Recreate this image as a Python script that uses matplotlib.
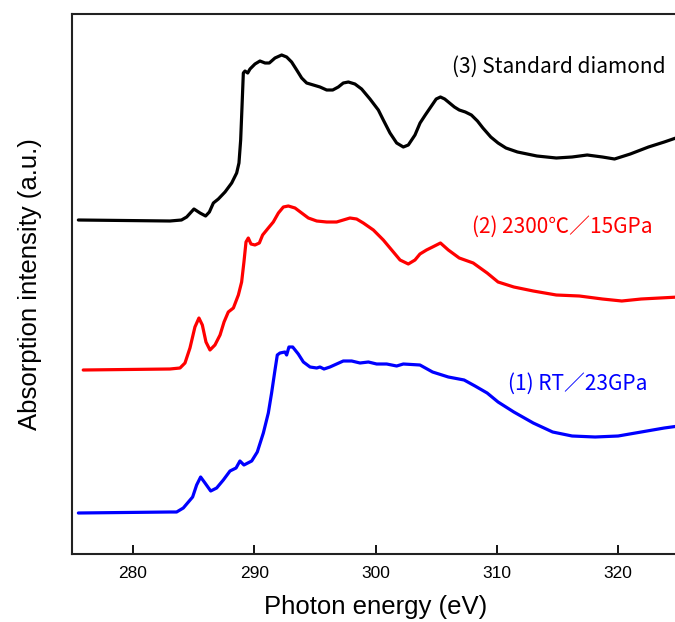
import matplotlib
matplotlib.use("Agg")
import matplotlib.pyplot as plt

plt.rcParams['font.family'] = ['Noto Sans CJK JP', 'DejaVu Sans']

# (3) Standard diamond
e_std = [275.5, 283.05, 284.0, 284.43, 285.03, 285.53, 285.99, 286.3, 286.63, 287.04, 287.59, 288.14,
         288.55, 288.74, 288.88, 288.99, 289.1, 289.24, 289.46, 289.65, 290.06, 290.47, 290.89, 291.24,
         291.71, 292.26, 292.67, 293.08, 293.5, 293.91, 294.32, 294.87, 295.42, 295.97, 296.47, 296.93,
         297.34, 297.76, 298.3, 298.85, 299.54, 300.23, 300.64, 301.19, 301.74, 302.29, 302.7, 303.25,
         303.67, 304.1, 304.55, 305.0, 305.35, 305.7, 306.0, 306.5, 306.9, 307.4, 307.9, 308.4,
         308.85, 309.5, 310.1, 310.75, 311.7, 313.3, 314.9, 316.2, 317.45, 318.7, 319.7, 321.0,
         322.5, 323.8, 325.0]
i_std = [3.34, 3.33, 3.34, 3.37, 3.45, 3.41, 3.38, 3.42, 3.51, 3.55, 3.62, 3.71,
         3.81, 3.91, 4.14, 4.47, 4.81, 4.83, 4.81, 4.85, 4.90, 4.93, 4.91, 4.91,
         4.96, 4.99, 4.97, 4.92, 4.84, 4.76, 4.71, 4.69, 4.67, 4.64, 4.64, 4.67,
         4.71, 4.72, 4.70, 4.65, 4.55, 4.44, 4.34, 4.21, 4.11, 4.07, 4.09, 4.19,
         4.31, 4.39, 4.47, 4.55, 4.57, 4.55, 4.52, 4.47, 4.44, 4.42, 4.39, 4.33,
         4.26, 4.17, 4.11, 4.06, 4.02, 3.98, 3.96, 3.97, 3.99, 3.97, 3.95, 4.00,
         4.07, 4.12, 4.17]

# (2) 2300C / 15GPa
e_hot = [275.9, 283.05, 283.88, 284.29, 284.7, 285.11, 285.44, 285.72, 286.02, 286.35, 286.76, 287.18,
         287.51, 287.86, 288.28, 288.69, 288.96, 289.15, 289.32, 289.51, 289.73, 290.06, 290.42, 290.69,
         291.16, 291.57, 291.99, 292.4, 292.81, 293.36, 293.91, 294.46, 295.15, 295.97, 296.79, 297.34,
         297.89, 298.44, 298.99, 299.82, 300.64, 301.33, 302.02, 302.7, 303.25, 303.66, 304.2, 304.7,
         305.35, 306.0, 306.9, 308.05, 309.2, 310.1, 311.4, 313.0, 314.9, 316.8, 318.7, 320.3,
         321.9, 325.0]
i_hot = [1.84, 1.85, 1.86, 1.91, 2.06, 2.27, 2.36, 2.29, 2.12, 2.04, 2.09, 2.19,
         2.32, 2.42, 2.46, 2.59, 2.72, 2.92, 3.12, 3.16, 3.10, 3.09, 3.11, 3.19,
         3.26, 3.32, 3.41, 3.47, 3.48, 3.46, 3.41, 3.36, 3.33, 3.32, 3.32, 3.34,
         3.36, 3.35, 3.31, 3.24, 3.14, 3.04, 2.94, 2.90, 2.94, 3.00, 3.04, 3.07,
         3.11, 3.04, 2.96, 2.91, 2.81, 2.72, 2.67, 2.63, 2.59, 2.58, 2.55, 2.53,
         2.55, 2.57]

# (1) RT / 23GPa
e_rt = [275.5, 283.05, 283.6, 284.15, 284.57, 284.92, 285.25, 285.58, 285.94, 286.41, 286.9, 287.45,
        288.0, 288.5, 288.82, 289.15, 289.79, 290.25, 290.75, 291.16, 291.43, 291.71, 291.9, 292.12,
        292.53, 292.67, 292.86, 293.17, 293.63, 294.05, 294.6, 295.15, 295.42, 295.75, 296.24, 296.79,
        297.34, 298.03, 298.72, 299.41, 300.09, 300.92, 301.74, 302.29, 303.66, 304.7, 306.0, 307.3,
        308.2, 309.2, 310.1, 311.4, 313.0, 314.6, 316.2, 318.1, 320.0, 321.9, 323.8, 325.0]
i_rt = [0.41, 0.42, 0.42, 0.46, 0.52, 0.57, 0.69, 0.77, 0.71, 0.63, 0.66, 0.74,
        0.83, 0.86, 0.93, 0.89, 0.93, 1.02, 1.21, 1.41, 1.61, 1.84, 1.99, 2.01,
        2.02, 1.99, 2.07, 2.07, 2.00, 1.92, 1.87, 1.86, 1.87, 1.85, 1.87, 1.90,
        1.93, 1.93, 1.91, 1.92, 1.90, 1.90, 1.88, 1.90, 1.89, 1.82, 1.77, 1.74,
        1.68, 1.61, 1.52, 1.42, 1.31, 1.22, 1.18, 1.17, 1.18, 1.22, 1.26, 1.28]

labels = ["(3) Standard diamond", "(2) 2300℃／15GPa", "(1) RT／23GPa"]
xticks = [280, 290, 300, 310, 320]

fig = plt.figure(figsize=(6.75, 6.22), dpi=100)
ax = fig.add_axes([72.3/675, 68/622, 606.5/675, 540/622])

ax.plot(e_std, i_std, color='black', lw=2.3, solid_joinstyle='round', solid_capstyle='round')
ax.plot(e_hot, i_hot, color='#ff0000', lw=2.3, solid_joinstyle='round', solid_capstyle='round')
ax.plot(e_rt, i_rt, color='#0000ff', lw=2.3, solid_joinstyle='round', solid_capstyle='round')

ax.text(306.3, 4.87, labels[0], color='black', fontsize=15, va='center', ha='left')
ax.text(307.95, 3.27, labels[1], color='#ff0000', fontsize=15, va='center', ha='left')
ax.text(310.9, 1.70, labels[2], color='#0000ff', fontsize=15, va='center', ha='left')

ax.set_xlim(275, 325)
ax.set_ylim(0, 5.40)
ax.set_xticks(xticks)
ax.set_xticklabels([str(t) for t in xticks], fontsize=12.5, family='Liberation Sans')
ax.set_yticks([])
ax.tick_params(axis='x', direction='in', length=6.5, width=1.3, pad=9)
for s in ['left', 'bottom', 'top', 'right']:
    ax.spines[s].set_linewidth(1.5)
    ax.spines[s].set_color('#222222')

ax.set_xlabel("Photon energy (eV)", fontsize=18.5, family='Liberation Sans', labelpad=10)
ax.set_ylabel("Absorption intensity (a.u.)", fontsize=18.5, family='Liberation Sans', labelpad=22)

fig.savefig("out.png", dpi=100)
